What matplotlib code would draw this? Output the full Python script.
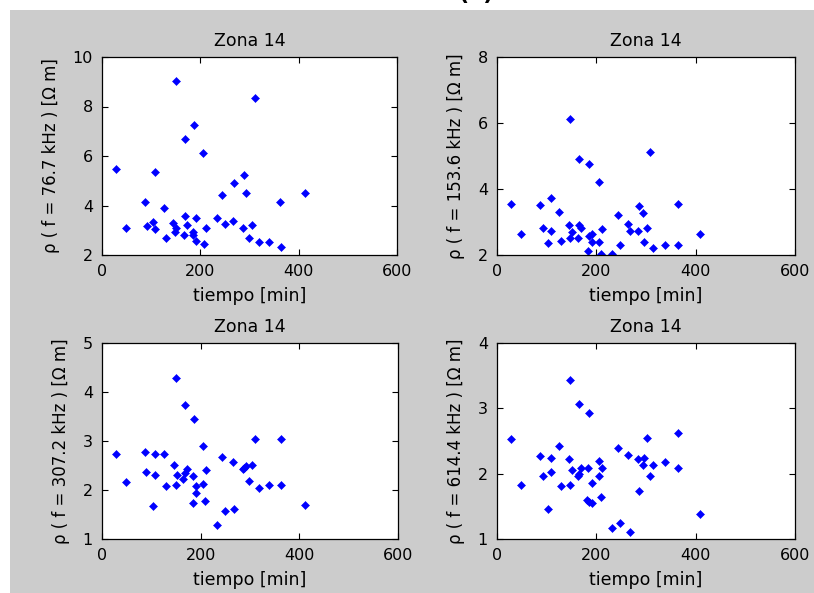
import matplotlib
matplotlib.use("Agg")
from matplotlib import pyplot as plt
from matplotlib.patches import Rectangle

# tiempo [min] and resistivity values
t_767 = [150, 312, 188, 169, 205, 28, 108, 289, 269, 244, 292, 413, 87, 363, 127, 169, 192,
         233, 104, 145, 173, 250, 267, 306, 49, 91, 108, 151, 211, 286, 149, 166, 185, 185,
         130, 299, 191, 208, 319, 339, 364]
r_767 = [9.05, 8.36, 7.26, 6.68, 6.11, 5.47, 5.35, 5.23, 4.89, 4.43, 4.49, 4.49, 4.14, 4.14,
         3.91, 3.57, 3.51, 3.51, 3.34, 3.28, 3.23, 3.27, 3.38, 3.23, 3.11, 3.16, 3.04, 3.11,
         3.09, 3.09, 2.93, 2.82, 2.93, 2.82, 2.69, 2.69, 2.57, 2.46, 2.51, 2.51, 2.34]

t_1536 = [147, 309, 166, 186, 205, 109, 28, 86, 364, 286, 125, 293, 244, 263, 144, 166, 170,
          92, 302, 212, 109, 151, 267, 283, 48, 408, 192, 186, 147, 164, 128, 103, 192, 206,
          296, 248, 338, 364, 315, 183, 209, 232]
r_1536 = [6.13, 5.12, 4.92, 4.77, 4.21, 3.73, 3.56, 3.52, 3.56, 3.47, 3.30, 3.26, 3.22, 2.95,
          2.91, 2.91, 2.83, 2.83, 2.83, 2.78, 2.73, 2.70, 2.73, 2.73, 2.65, 2.65, 2.65, 2.58,
          2.51, 2.51, 2.43, 2.35, 2.38, 2.38, 2.38, 2.30, 2.30, 2.30, 2.21, 2.13, 2.04, 2.04]

t_3072 = [149, 168, 187, 205, 311, 363, 28, 87, 107, 126, 243, 266, 146, 305, 291, 288, 285,
          172, 210, 90, 107, 152, 168, 185, 165, 298, 48, 205, 129, 149, 191, 318, 338, 363,
          191, 185, 208, 104, 411, 250, 268, 233]
r_3072 = [4.29, 3.73, 3.44, 2.89, 3.04, 3.04, 2.74, 2.77, 2.74, 2.74, 2.68, 2.57, 2.51, 2.51,
          2.49, 2.45, 2.42, 2.43, 2.40, 2.37, 2.31, 2.31, 2.34, 2.28, 2.22, 2.19, 2.16, 2.13,
          2.08, 2.11, 2.08, 2.05, 2.11, 2.11, 1.93, 1.73, 1.78, 1.67, 1.70, 1.58, 1.61, 1.29]

t_6144 = [147, 166, 186, 364, 28, 302, 125, 244, 86, 109, 263, 144, 283, 296, 205, 338, 293,
          315, 151, 170, 183, 212, 364, 109, 92, 164, 166, 205, 309, 48, 192, 128, 147, 286,
          209, 181, 192, 186, 103, 408, 248, 232, 267]
r_6144 = [3.44, 3.07, 2.93, 2.63, 2.53, 2.55, 2.42, 2.40, 2.27, 2.24, 2.28, 2.22, 2.22, 2.24,
          2.20, 2.18, 2.13, 2.13, 2.06, 2.09, 2.09, 2.09, 2.09, 2.02, 1.97, 1.97, 2.00, 1.96,
          1.96, 1.83, 1.85, 1.81, 1.83, 1.74, 1.65, 1.60, 1.55, 1.57, 1.46, 1.39, 1.24, 1.17,
          1.11]

freqs = ["76.7", "153.6", "307.2", "614.4"]
ylims = [(2, 10), (2, 8), (1, 5), (1, 4)]
yticks = [[2, 4, 6, 8, 10], [2, 4, 6, 8], [1, 2, 3, 4, 5], [1, 2, 3, 4]]

plt.rcParams['font.family'] = ['DejaVu Sans']

W, H = 814, 593
fig = plt.figure(figsize=(W / 100, H / 100), dpi=100, facecolor='white')

# grey matlab-ish window background, kept behind the axes
fig.patches.append(Rectangle((10 / W, 0), 1 - 10 / W, 1 - 10 / H, transform=fig.transFigure,
                             facecolor='#cccccc', edgecolor='none', zorder=-10))
# figure caption, cut off by the top edge as in the original
fig.text(476 / W, 1.0, "(a)", ha='center', va='baseline', fontsize=16, fontweight='bold')

# axes boxes in pixels: left, top, right, bottom
boxes = [(102, 57, 397, 255), (497, 57, 795, 255), (102, 343, 398, 539), (497, 343, 795, 539)]
series = [(t_767, r_767), (t_1536, r_1536), (t_3072, r_3072), (t_6144, r_6144)]

for i, (l, t, r, b) in enumerate(boxes):
    ax = fig.add_axes([l / W, 1 - b / H, (r - l) / W, (b - t) / H])
    ax.set_zorder(1)
    tx, ry = series[i]
    ax.plot(tx, ry, 'D', color='#0000ff', markersize=3.6, markeredgewidth=0.4,
            markeredgecolor='#0000ff')
    ax.set_xlim(0, 600)
    ax.set_ylim(*ylims[i])
    ax.set_xticks([0, 200, 400, 600])
    ax.set_yticks(yticks[i])
    ax.tick_params(direction='in', top=True, right=True, length=4, width=0.8, pad=6.5,
                   labelsize=11.5)
    for s in ax.spines.values():
        s.set_linewidth(0.9)
    ax.set_title("Zona 14", pad=8, fontsize=12.5)
    ax.set_xlabel("tiempo [min]", labelpad=6, fontsize=12.5)
    ax.set_ylabel("ρ ( f = " + freqs[i] + " kHz ) [Ω m]", labelpad=9, fontsize=12)

fig.savefig("out.png", dpi=100, facecolor=fig.get_facecolor())
